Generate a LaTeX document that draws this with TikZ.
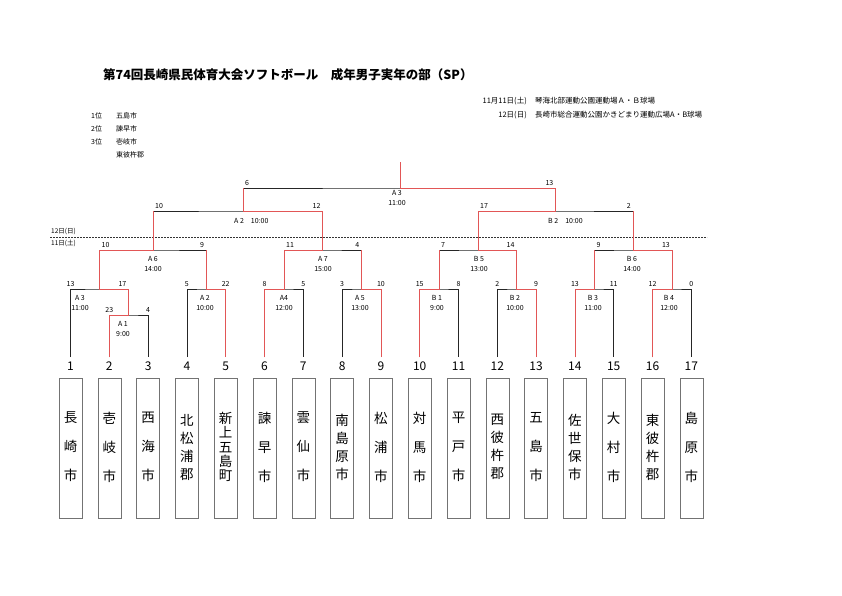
\documentclass[tikz,border=0pt]{standalone}
\usepackage{fontspec}
\setmainfont{Noto Sans CJK JP}
\usetikzlibrary{positioning}
\definecolor{winred}{RGB}{226,86,86}

\begin{document}
\begin{tikzpicture}[
  x=1pt, y=-1pt,
  line/.style    = {draw=black!85, line width=0.7pt},
  win/.style     = {draw=winred, line width=0.8pt},
  teambox/.style = {draw=black!55, line width=0.6pt, minimum width=23pt, minimum height=140pt, inner sep=0pt},
  tnum/.style    = {font=\fontsize{12}{12}\selectfont, inner sep=0pt},
  score/.style   = {font=\fontsize{7}{7}\selectfont, inner sep=2pt},
  game/.style    = {font=\fontsize{7}{10}\selectfont, align=center, inner sep=1pt, anchor=north},
  small/.style   = {font=\fontsize{7}{8}\selectfont, inner sep=0pt},
]
  \useasboundingbox[fill=white] (0,0) rectangle (842,595);

  % title and results
  \node[anchor=west, inner sep=0pt, font=\fontsize{12.5}{14}\selectfont\bfseries] (title) at (103,75)
    {第74回長崎県民体育大会ソフトボール\quad 成年男子実年の部（SP）};
  \foreach \r/\nm [count=\k] in {1位/五島市, 2位/諫早市, 3位/壱岐市, /東彼杵郡} {
    \node[small, anchor=west] (rank\k) at (91,103+13*\k) {\r};
    \node[small, anchor=west] (rankteam\k) at (116,103+13*\k) {\nm};
  }
  \node[small, font=\fontsize{7.5}{8}\selectfont, anchor=east] (day1) at (527,101) {11月11日(土)};
  \node[small, font=\fontsize{7.5}{8}\selectfont, anchor=west] (place1) at (535,101) {琴海北部運動公園運動場Ａ・Ｂ球場};
  \node[small, font=\fontsize{7.5}{8}\selectfont, anchor=east] (day2) at (527,115) {12日(日)};
  \node[small, font=\fontsize{7.5}{8}\selectfont, anchor=west] (place2) at (535,115) {長崎市総合運動公園かきどまり運動広場A・B球場};

  % day boundary
  \coordinate (dayL) at (50,237);
  \coordinate (dayR) at (707,237);
  \draw[black!80, line width=0.5pt, dash pattern=on 2pt off 1pt] (dayL) -- (dayR);
  \node[small, font=\fontsize{6.5}{7}\selectfont, anchor=west] (sun) at (51,231.5) {12日(日)};
  \node[small, font=\fontsize{6.5}{7}\selectfont, anchor=west] (sat) at (51,243.5) {11日(土)};

  % teams
  \foreach \i/\nm/\sk in {1/{長\\崎\\市}/29, 2/{壱\\岐\\市}/29, 3/{西\\海\\市}/29,
      4/{北\\松\\浦\\郡}/18, 5/{新\\上\\五\\島\\町}/14.2, 6/{諫\\早\\市}/29,
      7/{雲\\仙\\市}/29, 8/{南\\島\\原\\市}/18, 9/{松\\浦\\市}/29,
      10/{対\\馬\\市}/29, 11/{平\\戸\\市}/29, 12/{西\\彼\\杵\\郡}/18,
      13/{五\\島\\市}/29, 14/{佐\\世\\保\\市}/18, 15/{大\\村\\市}/29,
      16/{東\\彼\\杵\\郡}/18, 17/{島\\原\\市}/29} {
    \pgfmathsetmacro\tx{70.5+(\i-1)*38.8}
    \coordinate (t\i) at (\tx,357);
    \node[tnum] (num\i) at (\tx,366.5) {\i};
    \node[teambox] (box\i) at (\tx,448) {};
    \node[font=\fontsize{13.5}{\sk}\selectfont, align=center, inner sep=0pt] (name\i) at (\tx,447) {\nm};
  }

  % match points
  \coordinate (A1)  at (128.5,315);
  \coordinate (A3)  at (99.5,289);
  \coordinate (A2a) at (206.3,289);
  \coordinate (A4)  at (284,289);
  \coordinate (A5)  at (361.5,289);
  \coordinate (B1)  at (439,289);
  \coordinate (B2a) at (516.7,289);
  \coordinate (B3)  at (594.5,289);
  \coordinate (B4)  at (672,289);
  \coordinate (A6)  at (153,250);
  \coordinate (A7)  at (322.7,250);
  \coordinate (B5)  at (478,250);
  \coordinate (B6)  at (633,250);
  \coordinate (A2b) at (243,211);
  \coordinate (B2b) at (555.5,211);
  \coordinate (F)   at (400,188);
  \coordinate (top) at (400,162);

  % bracket
  \draw[line] (t2)  |- (A1)  -| (t3);
  \draw[line] (t1)  |- (A3)  -| (A1);
  \draw[line] (t4)  |- (A2a) -| (t5);
  \draw[line] (t6)  |- (A4)  -| (t7);
  \draw[line] (t8)  |- (A5)  -| (t9);
  \draw[line] (t10) |- (B1)  -| (t11);
  \draw[line] (t12) |- (B2a) -| (t13);
  \draw[line] (t14) |- (B3)  -| (t15);
  \draw[line] (t16) |- (B4)  -| (t17);
  \draw[line] (A3)  |- (A6)  -| (A2a);
  \draw[line] (A4)  |- (A7)  -| (A5);
  \draw[line] (B1)  |- (B5)  -| (B2a);
  \draw[line] (B3)  |- (B6)  -| (B4);
  \draw[line] (A6)  |- (A2b) -| (A7);
  \draw[line] (B5)  |- (B2b) -| (B6);
  \draw[line] (A2b) |- (F)   -| (B2b);

  % winners
  \draw[win] (t2)  |- (A1) |- (A3) |- (A6) -- (A6 |- A2b);
  \draw[win] (t5)  |- (A2a) -- (A2a |- A6);
  \draw[win] (t6)  |- (A4) |- (A7) |- (A2b) -- (A2b |- F);
  \draw[win] (t9)  |- (A5) -- (A5 |- A7);
  \draw[win] (t10) |- (B1) -- (B1 |- B5);
  \draw[win] (t13) |- (B2a) |- (B5) |- (B2b) |- (F) -- (top);
  \draw[win] (t14) |- (B3) -- (B3 |- B6);
  \draw[win] (t16) |- (B4) |- (B6) -- (B6 |- B2b);

  % scores, 11th
  \node[score, anchor=south] (sA1l) at (t2 |- A1) {23};
  \node[score, anchor=south] (sA1r) at (t3 |- A1) {4};
  \node[score, anchor=south] (sA3l) at (t1 |- A3) {13};
  \node[score, anchor=south east] (sA3r) at (A1 |- A3) {17};
  \node[score, anchor=south] (sA2l) at (t4 |- A2a) {5};
  \node[score, anchor=south] (sA2r) at (t5 |- A2a) {22};
  \node[score, anchor=south] (sA4l) at (t6 |- A4) {8};
  \node[score, anchor=south] (sA4r) at (t7 |- A4) {5};
  \node[score, anchor=south] (sA5l) at (t8 |- A5) {3};
  \node[score, anchor=south] (sA5r) at (t9 |- A5) {10};
  \node[score, anchor=south] (sB1l) at (t10 |- B1) {15};
  \node[score, anchor=south] (sB1r) at (t11 |- B1) {8};
  \node[score, anchor=south] (sB2l) at (t12 |- B2a) {2};
  \node[score, anchor=south] (sB2r) at (t13 |- B2a) {9};
  \node[score, anchor=south] (sB3l) at (t14 |- B3) {13};
  \node[score, anchor=south] (sB3r) at (t15 |- B3) {11};
  \node[score, anchor=south] (sB4l) at (t16 |- B4) {12};
  \node[score, anchor=south] (sB4r) at (t17 |- B4) {0};
  \node[score, anchor=south west] (sA6l) at (A3 |- A6) {10};
  \node[score, anchor=south east] (sA6r) at (A2a |- A6) {9};
  \node[score, anchor=south west] (sA7l) at (A4 |- A7) {11};
  \node[score, anchor=south east] (sA7r) at (A5 |- A7) {4};
  \node[score, anchor=south west] (sB5l) at (B1 |- B5) {7};
  \node[score, anchor=south east] (sB5r) at (B2a |- B5) {14};
  \node[score, anchor=south west] (sB6l) at (B3 |- B6) {9};
  \node[score, anchor=south east] (sB6r) at (B4 |- B6) {13};
  % scores, 12th
  \node[score, anchor=south west] (sA2bl) at (A6 |- A2b) {10};
  \node[score, anchor=south east] (sA2br) at (A7 |- A2b) {12};
  \node[score, anchor=south west] (sB2bl) at (B5 |- B2b) {17};
  \node[score, anchor=south east] (sB2br) at (B6 |- B2b) {2};
  \node[score, anchor=south west] (sFl) at (A2b |- F) {6};
  \node[score, anchor=south east] (sFr) at (B2b |- F) {13};

  % games
  \node[game] (gA1) at (123,320) {A 1\\9:00};
  \node[game] (gA3) at (80,294) {A 3\\11:00};
  \node[game] (gA2a) at (205,294) {A 2\\10:00};
  \node[game] (gA4) at (284,294) {A4\\12:00};
  \node[game] (gA5) at (360,294) {A 5\\13:00};
  \node[game] (gB1) at (437,294) {B 1\\9:00};
  \node[game] (gB2a) at (515,294) {B 2\\10:00};
  \node[game] (gB3) at (593,294) {B 3\\11:00};
  \node[game] (gB4) at (669,294) {B 4\\12:00};
  \node[game] (gA6) at (153,255) {A 6\\14:00};
  \node[game] (gA7) at (323,255) {A 7\\15:00};
  \node[game] (gB5) at (479,255) {B 5\\13:00};
  \node[game] (gB6) at (632,255) {B 6\\14:00};
  \node[game, anchor=north west] (gA2b) at (233,217) {A 2\quad 10:00};
  \node[game, anchor=north west] (gB2b) at (547,217) {B 2\quad 10:00};
  \node[game] (gF) at (397,189) {A 3\\11:00};
\end{tikzpicture}
\end{document}
